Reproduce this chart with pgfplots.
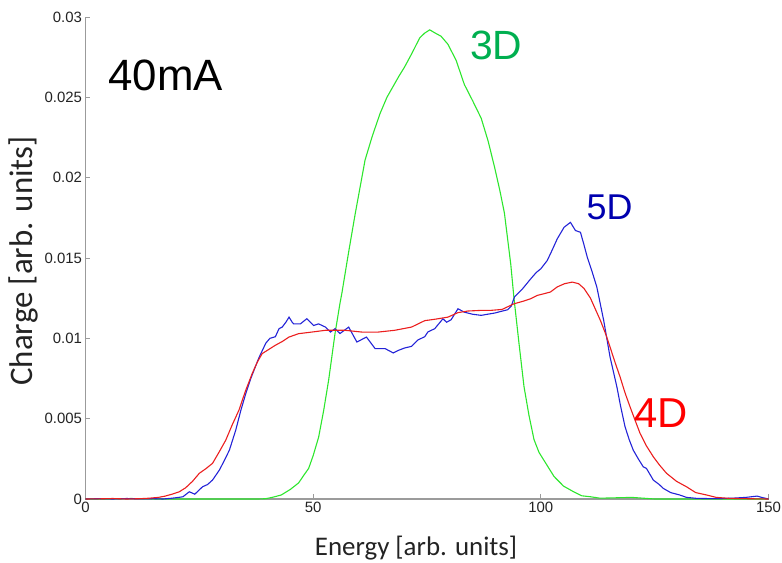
\documentclass[border=0pt]{standalone}
\usepackage{pgfplots}
\pgfplotsset{compat=1.18}
\usepackage{fontspec}
\setmainfont{Liberation Sans}
\newfontfamily\labelfont{Carlito}

\definecolor{axgray}{RGB}{155,155,155}
\definecolor{tickgray}{RGB}{35,35,35}
\definecolor{line3d}{RGB}{45,230,45}
\definecolor{line4d}{RGB}{235,30,30}
\definecolor{line5d}{RGB}{35,35,215}
\definecolor{lab3d}{RGB}{0,175,80}
\definecolor{lab4d}{RGB}{255,0,0}
\definecolor{lab5d}{RGB}{0,0,175}

\begin{document}
\begin{tikzpicture}
\useasboundingbox (-85.5bp,-64bp) rectangle (696.5bp,499bp);
\begin{axis}[
  at={(0,0)}, anchor=south west,
  scale only axis, width=683bp, height=482bp,
  xmin=0, xmax=150, ymin=0, ymax=0.03,
  axis x line=bottom, axis y line=left,
  axis line style={-, draw=axgray, line width=1.1bp},
  xtick={0,50,100,150}, xticklabels={0,50,100,150},
  ytick={0,0.005,0.01,0.015,0.02,0.025,0.03},
  yticklabels={0,0.005,0.01,0.015,0.02,0.025,0.03},
  scaled y ticks=false,
  tick align=inside, major tick length=5bp,
  tick style={draw=axgray, line width=0.7bp},
  ticklabel style={font=\fontsize{15}{15}\selectfont, text=tickgray},
  /pgf/number format/assume math mode=true,
  xlabel={Energy [arb. units]},
  ylabel={Charge [arb. units]},
  xlabel style={font=\labelfont\fontsize{27}{27}\selectfont, text=tickgray,
    at={(axis description cs:0.484,-0.1017)}, anchor=center},
  ylabel style={font=\labelfont\fontsize{33}{33}\selectfont, text=tickgray,
    at={(axis description cs:-0.0908,0.494)}, anchor=center},
  clip=false,
]
% 3D
\addplot[line3d, line width=1.1bp] coordinates {
(0,0) (5,0) (10,0.00003) (15,0) (20,0) (30,0) (38,0) (39.6,0.00002) (41,0.0001)
(43,0.00025) (45,0.0006) (46.8,0.001) (48,0.0015) (49,0.0019) (50,0.0027)
(51.2,0.00385) (52.3,0.0055) (53.4,0.0074) (54.8,0.0103) (55.9,0.0122)
(56.3,0.0128) (57.75,0.0153) (59.2,0.0177) (60.3,0.0194) (61.4,0.0211)
(63,0.0226) (64.7,0.0240) (66.2,0.0250) (67.6,0.0257) (68.8,0.0263)
(70.1,0.0269) (71.8,0.0278) (73.4,0.0287) (74.5,0.0290) (75.6,0.0292)
(76.8,0.0290) (78.1,0.0288) (79.6,0.0283) (81.4,0.0273) (83.2,0.0258)
(85,0.0248) (86.9,0.0237) (88.4,0.0223) (89.8,0.0207) (91,0.0192)
(92,0.0178) (93.4,0.0146) (94.1,0.0125) (95.2,0.0097) (96.3,0.0070)
(97.4,0.0052) (98.5,0.0037) (99.6,0.0029) (100.7,0.0024) (101.8,0.0019)
(102.9,0.0014) (105,0.0008) (107.2,0.00045) (109,0.0002) (110.9,0.00014)
(113,0.00005) (120,0.0001) (125,0) (130,0) (140,0) (150,0)
};
% 5D
\addplot[line5d, line width=1.1bp] coordinates {
(0,0) (3,0.00002) (6,0) (9,0.00003) (12,0.00001) (15,0.00002) (17,0)
(19,0.00005) (20.5,0.0001) (21.4,0.00014) (22.8,0.00045) (24,0.0003)
(25.7,0.00076) (26.8,0.0009) (27.9,0.00118) (29.4,0.0018) (30.5,0.0024)
(31.6,0.00304) (33.0,0.00429) (34.1,0.0055) (35.2,0.00656) (36.3,0.0075)
(37.4,0.0083) (38.1,0.0088) (39.6,0.0097) (40.5,0.0100) (41.7,0.0101)
(42.5,0.0106) (43.2,0.0107) (44.0,0.0110) (44.7,0.01132) (45.4,0.0110)
(45.7,0.0109) (47.2,0.0109) (48.6,0.01122) (50.1,0.0108) (51.2,0.0109)
(52.7,0.0107) (53.8,0.01039) (54.8,0.0106) (55.9,0.0103) (57.8,0.0107)
(59.6,0.00977) (61.7,0.01008) (63.6,0.00936) (65.8,0.00936) (67.6,0.00909)
(68.7,0.00925) (70.1,0.0094) (71.6,0.0095) (73.0,0.0099) (74.5,0.0101)
(75.2,0.0104) (76.7,0.0106) (78.5,0.01122) (79.3,0.0110) (80.3,0.01116)
(81.8,0.01184) (83.2,0.01163) (85,0.0115) (86.9,0.01143) (88.3,0.0115)
(89.8,0.01157) (92.7,0.01178) (93.5,0.0120) (94.2,0.01257) (96.0,0.01309)
(97.8,0.01371) (99,0.0141) (100.0,0.01433) (101.4,0.01484) (102.5,0.0155)
(103.6,0.01619) (105.1,0.01691) (106.5,0.01722) (107.6,0.01671)
(108.7,0.0166) (109.4,0.0159) (110.2,0.01505) (111.2,0.0142) (112.3,0.01319)
(113.8,0.01112) (115.2,0.00884) (116.7,0.00698) (117.5,0.0058)
(118.5,0.00449) (119.4,0.0037) (120.3,0.00304) (121.4,0.0025) (122.5,0.0020)
(123.2,0.0019) (124.7,0.00118) (126,0.0009) (126.9,0.00066) (128.5,0.0004)
(130.5,0.00025) (132,0.0001) (134.2,0.00004) (138,0.00002) (142,0.00005)
(145,0.0001) (147.5,0.00018) (148.5,0.0001) (150,0)
};
% 4D
\addplot[line4d, line width=1.1bp] coordinates {
(0,0) (3,0.00001) (6,0.00003) (9,0) (12,0.00002) (14,0.00005) (16,0.0001)
(17.5,0.00018) (19,0.0003) (20.6,0.00045) (22,0.0007) (23.5,0.0011)
(25.0,0.0016) (26.5,0.0019) (27.9,0.00222) (29.3,0.0029) (30.8,0.00366)
(32.2,0.0046) (33.7,0.00553) (35.1,0.0067) (36.6,0.0078) (37.7,0.0085)
(38.8,0.00905) (40.2,0.0093) (41.7,0.00957) (43.2,0.0098) (44.7,0.01008)
(46.8,0.01029) (49.7,0.01039) (52.7,0.0105) (55,0.0105) (57.0,0.0105)
(60.7,0.01039) (64.3,0.01039) (67.9,0.0105) (71.6,0.0107) (74.5,0.0111)
(77,0.0112) (79.6,0.01132) (81.8,0.0116) (84,0.0117) (86.9,0.01174)
(89.0,0.01174) (91.5,0.0118) (94.1,0.01215) (96,0.0123) (97.8,0.01247)
(99.2,0.01267) (102.1,0.01288) (103.6,0.0132) (105.2,0.0134) (106.9,0.0135)
(108.3,0.0134) (109.5,0.0131) (110.9,0.0125) (112,0.0118) (113.1,0.0111)
(114.2,0.0103) (115.2,0.00946) (116.3,0.0085) (117.4,0.0076) (118.5,0.0066)
(119.6,0.00573) (120.7,0.0049) (121.8,0.00408) (123.2,0.0033)
(124.7,0.00263) (126.1,0.0021) (127.6,0.0016) (129.8,0.0011) (132.0,0.00076)
(134,0.0004) (136.4,0.00025) (138.5,0.0001) (141.4,0.00004) (145,0.00002)
(150,0)
};
\node[text=black, font=\fontsize{44}{44}\selectfont] at (axis cs:17.6,0.02634) {40mA};
\node[text=lab3d, font=\fontsize{41}{41}\selectfont] at (axis cs:90.2,0.0282) {3D};
\node[text=lab5d, font=\fontsize{36}{36}\selectfont] at (axis cs:115.1,0.01814) {5D};
\node[text=lab4d, font=\fontsize{42}{42}\selectfont] at (axis cs:126.4,0.00534) {4D};
\end{axis}
\end{tikzpicture}
\end{document}
